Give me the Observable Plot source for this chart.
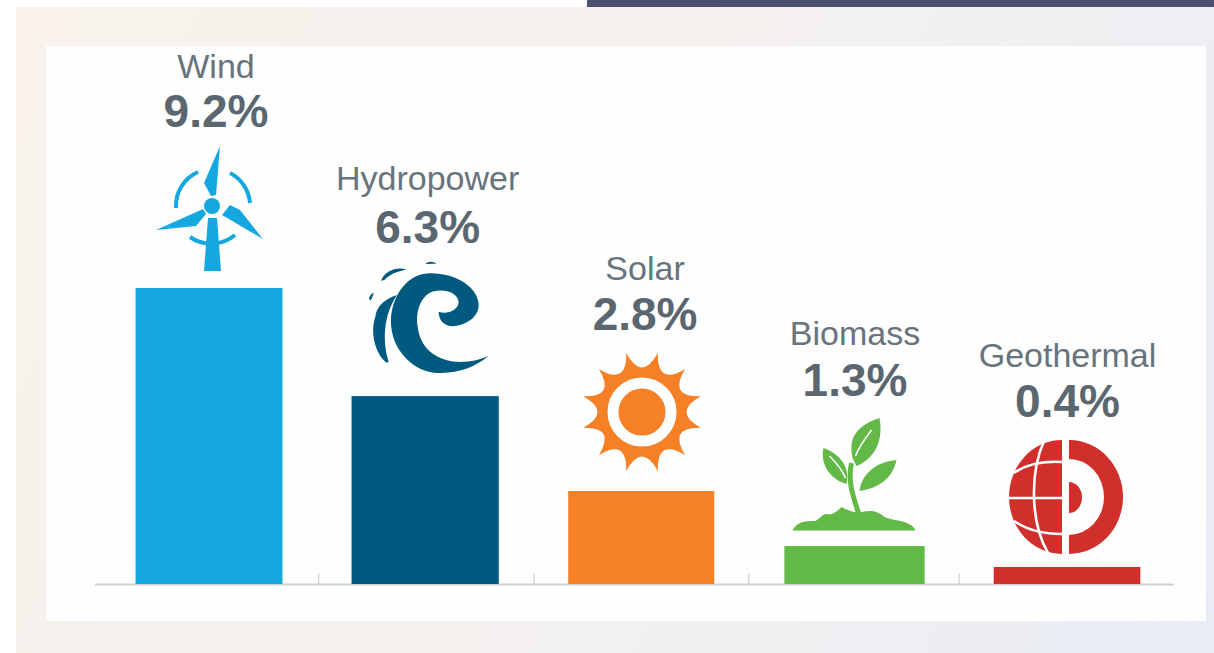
<!DOCTYPE html>
<html>
<head>
<meta charset="utf-8">
<script src="https://cdn.jsdelivr.net/npm/d3@7"></script>
<script src="https://cdn.jsdelivr.net/npm/@observablehq/plot@0.6"></script>
<style>
html,body{margin:0;padding:0;background:#fff;width:1214px;height:653px;overflow:hidden}
#page{position:relative;width:1214px;height:653px;overflow:hidden}
#strip{position:absolute;left:587px;top:0;width:627px;height:7px;background:#4a5070}
#panel{position:absolute;left:16px;top:7px;width:1198px;height:646px;background:linear-gradient(115deg,#f9f2ec 0%,#f6f1ed 35%,#f1f0f1 65%,#e8ecf5 100%)}
#card{position:absolute;left:46px;top:46px;width:1160px;height:575px;background:#fefefe}
#chart{position:absolute;left:0;top:0}
</style>
</head>
<body>
<div id="page"><div id="strip"></div><div id="panel"></div><div id="card"></div><div id="chart"></div></div>
<script>
const categories = ["Wind", "Hydropower", "Solar", "Biomass", "Geothermal"];
const shares = [9.2, 6.3, 2.8, 1.3, 0.4];
const drawnHeights = [9.2, 5.84, 2.89, 1.18, 0.53];
const colors = ["#15a8e0", "#005a80", "#f58026", "#62b946", "#d12f2c"];

const data = categories.map((name, i) => ({name, i, share: shares[i], h: drawnHeights[i]}));

// layout of the picture, in pixels, relative to each bar's top centre
const pxPerUnit = 296 / 9.2;
const barHalf = [0.34, 0.34, 0.34, 0.33, 0.345];
const nameLift = [211, 207, 212, 202, 200];
const valueLift = [162, 154, 162, 151, 150];
const labelShift = [0.03, 0.01, 0.012, 0, 0];
const iconLift = [82, 76, 79, 56, 70];
const iconShift = [3, 2, 0, 0, -1];

const sun = (() => {
  const n = 12, R = 61, r = 30, a0 = Math.PI / 12;
  let p = "";
  for (let k = 0; k < n; k++) {
    const a = a0 + k * 2 * Math.PI / n, b = a + Math.PI / n, c = a + 2 * Math.PI / n;
    if (!k) p += `M${R * Math.cos(a)},${R * Math.sin(a)}`;
    p += `Q${r * Math.cos(b)},${r * Math.sin(b)} ${R * Math.cos(c)},${R * Math.sin(c)}`;
  }
  return `<path d="${p}Z" fill="#f58026"/><circle r="29" fill="none" stroke="#fefefe" stroke-width="11"/><circle r="23" fill="#f58026"/>`;
})();

const icons = [
  // wind turbine
  `<g fill="#15a8e0">
    <circle r="8"/>
    <path d="M8,-60L-8,-23L-1,-10L4,-11Z"/>
    <path d="M-56,24L-9,3L-6,8L-16,20Z"/>
    <path d="M51,33L10,9L18,-1L28,4Z"/>
    <path d="M-4,12L5,12L9,65L-8,65Z"/>
  </g>
  <g fill="none" stroke="#15a8e0" stroke-width="4">
    <path d="M-14,-34A37,37 0 0 0 -36,2"/>
    <path d="M18,-33A37,37 0 0 1 38,-3"/>
    <path d="M-22,31A37,37 0 0 0 23,29"/>
  </g>`,
  // wave
  `<g transform="scale(.3333) translate(-890,-840)" fill="#005a80">
    <path d="M1075,948C1030,985 970,1005 905,997C840,985 785,925 782,850C780,775 825,705 890,700C970,695 1045,740 1045,795C1045,835 1000,860 960,858C940,855 925,840 925,815C950,825 985,810 985,785C980,755 940,745 905,755C870,770 855,815 862,860C870,925 915,958 975,965C1010,967 1045,962 1075,948Z"/>
    <path d="M770,968C745,955 715,890 735,830C738,800 765,775 800,765C760,825 755,900 775,965Z"/>
    <path d="M752,722C765,690 800,680 828,688C795,695 775,705 762,720Z"/>
    <path d="M885,672C895,662 910,664 918,672C905,669 895,672 885,672Z"/>
    <path d="M716,775C718,765 725,760 730,758C728,768 725,775 720,782Z"/>
  </g>`,
  // sun
  sun,
  // plant
  `<g transform="translate(-855,-490)">
    <path fill="#62b946" d="M793,530.5C797,522 805,521 815,521C820,520 822,514 827,514C832,515 836,513 842,507C847,510 855,513 862,512C872,510 878,511 885,517C892,520 898,520 905,522C910,524 914,526 916,530.5Z"/>
    <path fill="none" stroke="#62b946" stroke-width="5" d="M859,513C853,495 848,480 852,463"/>
    <path fill="#62b946" d="M853,458C848,435 860,425 880,418C884,440 876,458 857,466Z"/>
    <path fill="#62b946" d="M847,484C832,480 820,465 824,448C838,453 851,465 847,484Z"/>
    <path fill="#62b946" d="M860,491C862,475 875,462 897,460C893,478 880,488 860,491Z"/>
    <path fill="none" stroke="#fefefe" stroke-width="1.6" d="M856,456C860,445 866,438 872,430M846,478C842,468 836,462 830,456"/>
  </g>`,
  // geothermal
  `<path fill="#d12f2c" d="M3,-57A54,57 0 0 1 3,57L3,38A35,38 0 0 0 3,-38Z"/>
   <path fill="#d12f2c" d="M3,-15A13,15.5 0 0 1 3,16Z"/>
   <path fill="#d12f2c" d="M-4,-57A53,57 0 0 0 -4,57Z"/>
   <g fill="none" stroke="#fefefe" stroke-width="2.6">
     <path d="M-57,1L-4,1"/>
     <path d="M-52,-24C-38,-34 -20,-36 -4,-35"/>
     <path d="M-52,24C-38,34 -20,37 -4,37"/>
     <path d="M-22,-56C-36,-25 -36,25 -18,56"/>
   </g>`
];

const iconMark = Plot.dot(data, {
  x: "i",
  y: "h",
  render(index, scales, values, dimensions, context) {
    const g = d3.select(context.document.createElementNS("http://www.w3.org/2000/svg", "g"));
    for (const i of index) {
      g.append("g")
        .attr("transform", `translate(${values.x[i] + iconShift[i]},${values.y[i] - iconLift[i]})`)
        .html(icons[i]);
    }
    return g.node();
  }
});

const font = '"Liberation Sans", Arial, sans-serif';

const plot = Plot.plot({
  width: 1214,
  height: 653,
  marginTop: 0, marginRight: 0, marginBottom: 0, marginLeft: 0,
  style: {background: "transparent", overflow: "visible"},
  x: {type: "linear", domain: [0, 1, 2, 3, 4], range: [209, 425, 642, 854.5, 1067], axis: null},
  y: {domain: [0, 9.2], range: [584, 288], axis: null},
  color: {domain: categories, range: colors},
  marks: [
    Plot.ruleY([0], {x1: -0.528, x2: 4.503, stroke: "#cfd0d2", strokeWidth: 2}),
    Plot.ruleX([0.505, 1.5, 2.5, 3.49], {y1: 0, y2: 0.33, stroke: "#cfd0d2", strokeWidth: 1.2}),
    Plot.rect(data, {
      x1: d => d.i - barHalf[d.i],
      x2: d => d.i + barHalf[d.i],
      y1: 0,
      y2: "h",
      fill: "name"
    }),
    iconMark,
    Plot.text(data, {
      x: d => d.i + labelShift[d.i],
      y: d => d.h + nameLift[d.i] / pxPerUnit,
      text: "name",
      fontFamily: font,
      fontSize: 34,
      fill: "#67737d",
      textAnchor: "middle",
      lineAnchor: "bottom"
    }),
    Plot.text(data, {
      x: d => d.i + labelShift[d.i],
      y: d => d.h + valueLift[d.i] / pxPerUnit,
      text: d => d.share.toFixed(1) + "%",
      fontFamily: font,
      fontSize: 46,
      fontWeight: "bold",
      fill: "#5a6670",
      textAnchor: "middle",
      lineAnchor: "bottom"
    })
  ]
});
document.getElementById("chart").appendChild(plot);
</script>
</body>
</html>
